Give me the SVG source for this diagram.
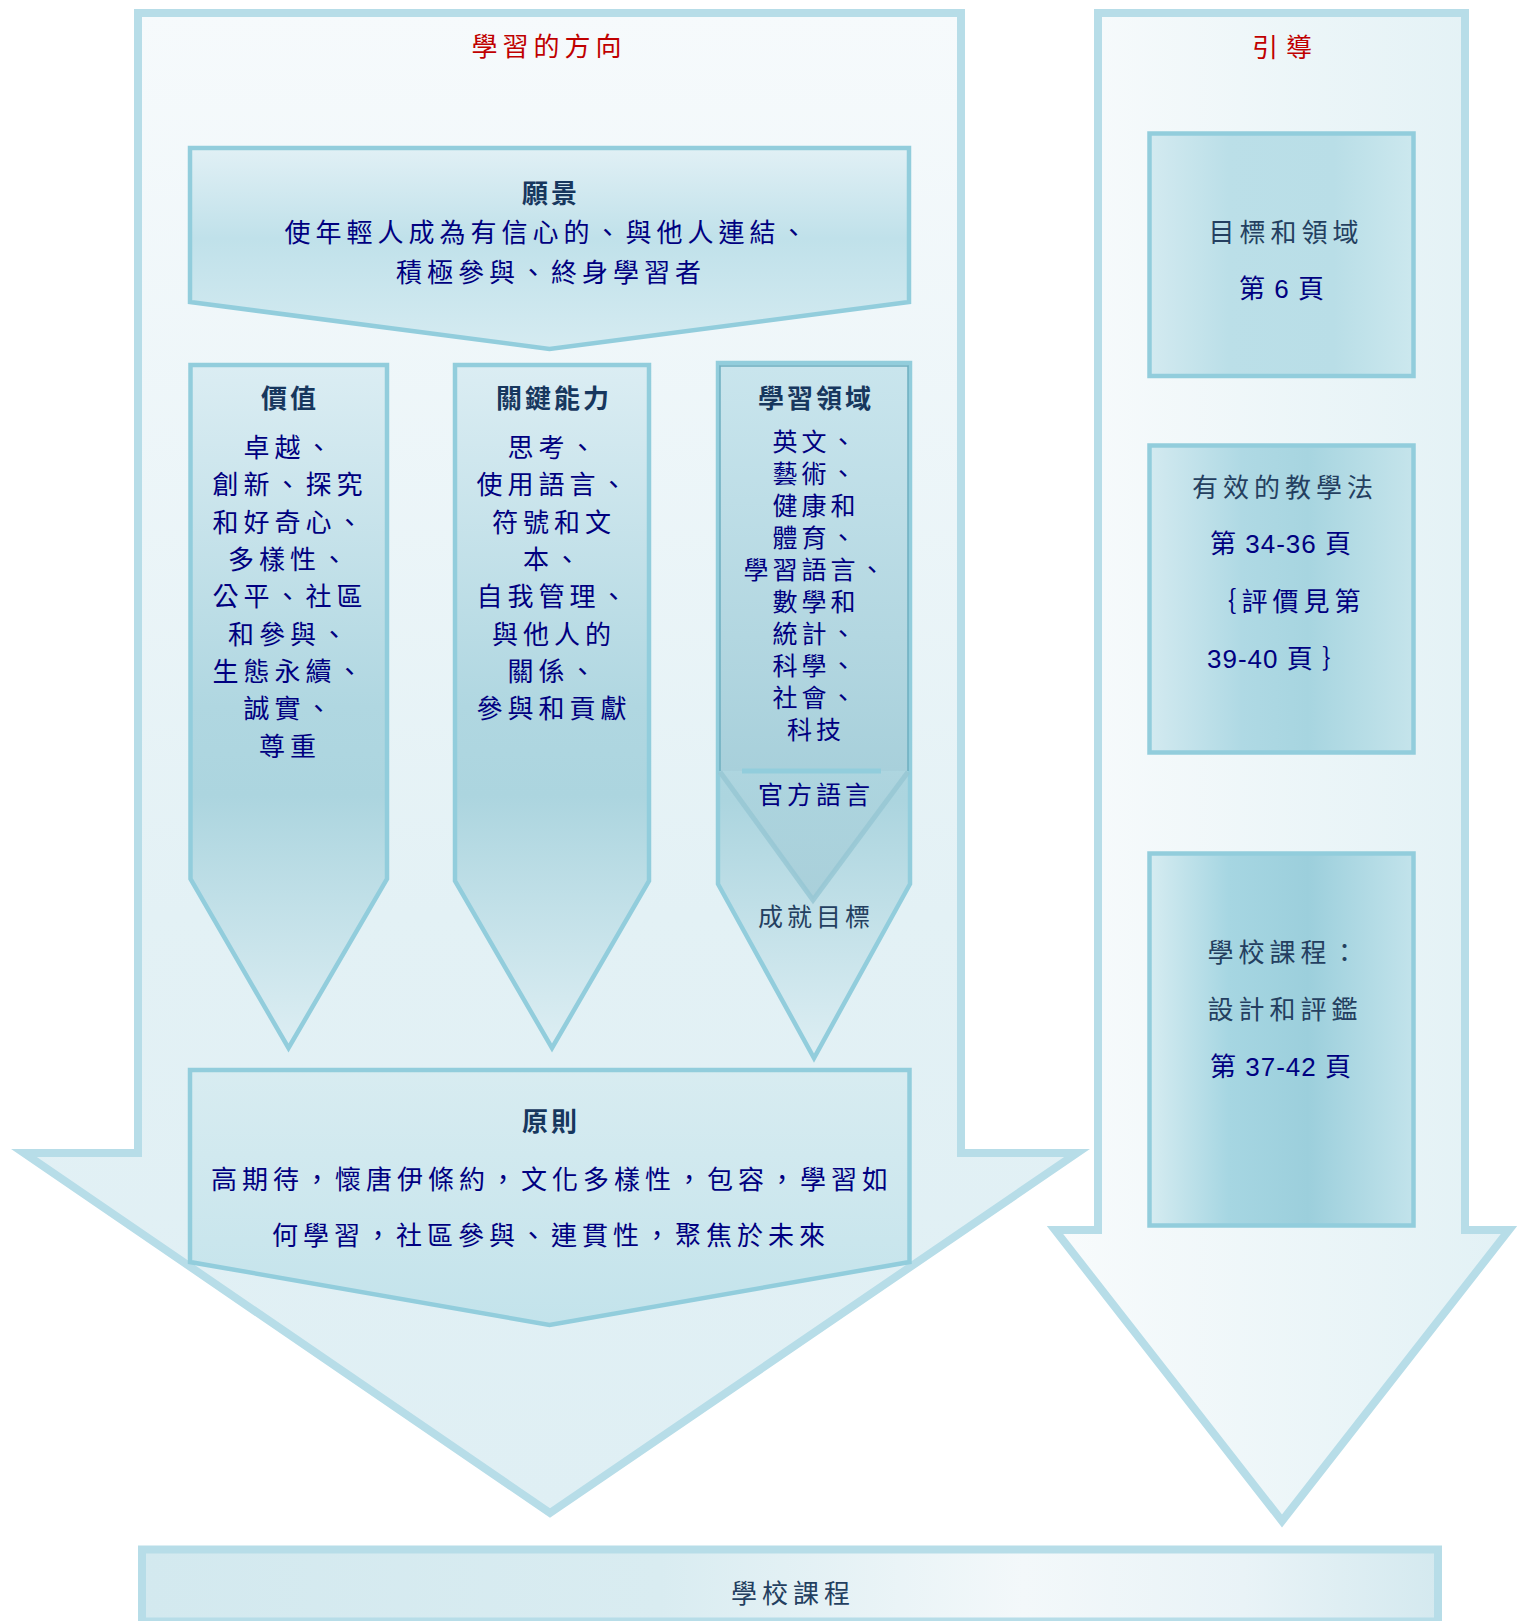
<svg xmlns="http://www.w3.org/2000/svg" width="1525" height="1621" viewBox="0 0 1525 1621">
<defs>
<linearGradient id="gBigL" x1="0" y1="0" x2="0" y2="1">
<stop offset="0" stop-color="#f6fafc"/><stop offset="0.6" stop-color="#e3f1f5"/><stop offset="1" stop-color="#dfeff4"/>
</linearGradient>
<linearGradient id="gBigR" x1="0" y1="0" x2="1" y2="0">
<stop offset="0" stop-color="#f8fbfc"/><stop offset="1" stop-color="#e2f1f5"/>
</linearGradient>
<linearGradient id="gCol" x1="0" y1="0" x2="0" y2="1">
<stop offset="0" stop-color="#dbedf3"/><stop offset="0.5" stop-color="#b0d7e1"/><stop offset="0.63" stop-color="#acd5df"/><stop offset="1" stop-color="#ddeef3"/>
</linearGradient>
<linearGradient id="gVision" x1="0" y1="0" x2="0" y2="1">
<stop offset="0" stop-color="#e1f0f5"/><stop offset="0.45" stop-color="#c0e1ea"/><stop offset="1" stop-color="#d5ebf1"/>
</linearGradient>
<linearGradient id="gPrin" x1="0" y1="0" x2="0" y2="1">
<stop offset="0" stop-color="#d8ecf1"/><stop offset="1" stop-color="#c3e3eb"/>
</linearGradient>
<linearGradient id="gInner" x1="0" y1="0" x2="0" y2="1">
<stop offset="0" stop-color="#c9e5ed"/><stop offset="1" stop-color="#a8d0db"/>
</linearGradient>
<linearGradient id="gTri" x1="0" y1="0" x2="0" y2="1">
<stop offset="0" stop-color="#aed5df"/><stop offset="1" stop-color="#a4ccd7"/>
</linearGradient>
<linearGradient id="gBox1" x1="0" y1="0" x2="1" y2="0">
<stop offset="0" stop-color="#d3eaf0"/><stop offset="0.3" stop-color="#bbdfe8"/><stop offset="0.7" stop-color="#b9dee7"/><stop offset="1" stop-color="#cce8ee"/>
</linearGradient>
<linearGradient id="gBox2" x1="0" y1="0" x2="1" y2="0">
<stop offset="0" stop-color="#d3eaf0"/><stop offset="0.35" stop-color="#afd9e4"/><stop offset="0.6" stop-color="#a7d5e0"/><stop offset="1" stop-color="#c5e4eb"/>
</linearGradient>
<linearGradient id="gBox3" x1="0" y1="0" x2="1" y2="0">
<stop offset="0" stop-color="#d6ecf1"/><stop offset="0.3" stop-color="#a6d6e2"/><stop offset="0.6" stop-color="#9ccfdc"/><stop offset="1" stop-color="#c2e3eb"/>
</linearGradient>
<linearGradient id="gBar" x1="0" y1="0" x2="1" y2="0">
<stop offset="0" stop-color="#d3e9ef"/><stop offset="0.4" stop-color="#d9ecf1"/><stop offset="0.68" stop-color="#f3f8fa"/><stop offset="0.85" stop-color="#e9f3f7"/><stop offset="1" stop-color="#d4e9ef"/>
</linearGradient>
</defs>
<style>
.big{stroke:#b7dde8;stroke-width:8;stroke-linejoin:miter;stroke-miterlimit:10}
.inner{stroke:#92cddc;stroke-width:4.5;stroke-linejoin:miter;stroke-miterlimit:10}
text{font-family:"Noto Sans CJK TC","Noto Sans CJK SC",sans-serif;font-size:26px;text-anchor:middle;letter-spacing:5px}
.red{fill:#c00000}
.hd{fill:#17375e;font-weight:bold;letter-spacing:3px}
.bd{fill:#000080}
.sl{fill:#243f60}
.c3{font-family:"Liberation Sans","Noto Sans CJK TC",sans-serif;font-size:25px;letter-spacing:4px}
.num{font-family:"Liberation Sans","Noto Sans CJK TC",sans-serif;letter-spacing:1px;fill:#000080}
</style>

<g id="learning-direction-arrow">
<path class="big" fill="url(#gBigL)" d="M138,13 H961 V1153 H1077 L550,1513 L24,1153 H138 Z"/>
<text class="red" x="549" y="56">學習的方向</text>
</g>

<g id="guidance-arrow">
<path class="big" fill="url(#gBigR)" d="M1098,13 H1465 V1230 H1509 L1282,1521 L1055,1230 H1098 Z"/>
<text class="red" x="1286" y="57" style="letter-spacing:8px">引導</text>
</g>

<g id="vision">
<path class="inner" fill="url(#gVision)" d="M190,148 H909 V302 L549.5,349 L190,302 Z"/>
<text class="hd" x="551" y="203">願景</text>
<text class="bd" x="548" y="242">使年輕人成為有信心的、與他人連結、</text>
<text class="bd" x="551" y="282">積極參與、終身學習者</text>
</g>

<g id="values">
<path class="inner" fill="url(#gCol)" d="M190.5,365 H387 V879 L288.5,1048 L190.5,879 Z"/>
<text class="hd" x="290" y="408">價值</text>
<text class="bd" x="290" y="457">卓越、</text>
<text class="bd" x="290" y="494">創新、探究</text>
<text class="bd" x="290" y="532">和好奇心、</text>
<text class="bd" x="290" y="569">多樣性、</text>
<text class="bd" x="290" y="606">公平、社區</text>
<text class="bd" x="290" y="644">和參與、</text>
<text class="bd" x="290" y="681">生態永續、</text>
<text class="bd" x="290" y="718">誠實、</text>
<text class="bd" x="290" y="756">尊重</text>
</g>

<g id="key-competencies">
<path class="inner" fill="url(#gCol)" d="M455,365 H649 V881 L552,1048 L455,881 Z"/>
<text class="hd" x="554" y="408">關鍵能力</text>
<text class="bd" x="554" y="457">思考、</text>
<text class="bd" x="554" y="494">使用語言、</text>
<text class="bd" x="554" y="532">符號和文</text>
<text class="bd" x="554" y="569">本、</text>
<text class="bd" x="554" y="606">自我管理、</text>
<text class="bd" x="554" y="644">與他人的</text>
<text class="bd" x="554" y="681">關係、</text>
<text class="bd" x="554" y="718">參與和貢獻</text>
</g>

<g id="learning-areas">
<path class="inner" fill="url(#gCol)" d="M718,363 H910 V884 L814,1058 L718,884 Z"/>
<rect x="720" y="366" width="188" height="405" fill="url(#gInner)"/>
<path d="M720,771 V366 H908 V771" fill="none" stroke="#6eaec0" stroke-width="1.5"/>
<path d="M720,772 L813,900 L908,772 Z" fill="url(#gTri)" fill-opacity="0.8"/>
<path d="M720,772 L813,900 L908,772" fill="none" stroke="#96c7d4" stroke-width="5" stroke-opacity="0.85"/>
<line x1="742" y1="771" x2="881" y2="771" stroke="#92cddc" stroke-width="5"/>
<text class="hd" x="816" y="408">學習領域</text>
<text class="bd c3" x="816" y="451">英文、</text>
<text class="bd c3" x="816" y="483">藝術、</text>
<text class="bd c3" x="816" y="515">健康和</text>
<text class="bd c3" x="816" y="547">體育、</text>
<text class="bd c3" x="816" y="579">學習語言、</text>
<text class="bd c3" x="816" y="611">數學和</text>
<text class="bd c3" x="816" y="643">統計、</text>
<text class="bd c3" x="816" y="675">科學、</text>
<text class="bd c3" x="816" y="707">社會、</text>
<text class="bd c3" x="816" y="739">科技</text>
<text class="bd c3" x="816" y="804">官方語言</text>
<text class="sl c3" x="816" y="926">成就目標</text>
</g>

<g id="principles">
<path class="inner" fill="url(#gPrin)" d="M190,1070 H909.5 V1262 L549.5,1325 L190,1262 Z"/>
<text class="hd" x="551" y="1131">原則</text>
<text class="bd" x="552" y="1189">高期待，懷唐伊條約，文化多樣性，包容，學習如</text>
<text class="bd" x="551" y="1245">何學習，社區參與、連貫性，聚焦於未來</text>
</g>

<g id="aims-and-areas">
<rect class="inner" x="1149.5" y="133.5" width="264" height="242.5" fill="url(#gBox1)"/>
<text class="sl" x="1286" y="242">目標和領域</text>
<text class="num" x="1282" y="298">第 6 頁</text>
</g>

<g id="effective-pedagogy">
<rect class="inner" x="1149.5" y="445.5" width="264" height="307" fill="url(#gBox2)"/>
<text class="sl" x="1285" y="497">有效的教學法</text>
<text class="num" x="1281" y="553">第 34-36 頁</text>
<text class="bd" x="1288" y="611">｛評價見第</text>
<text class="num" x="1278" y="668">39-40 頁 ｝</text>
</g>

<g id="school-curriculum-design">
<rect class="inner" x="1149.5" y="853.5" width="264" height="372" fill="url(#gBox3)"/>
<text class="sl" x="1285" y="962">學校課程：</text>
<text class="sl" x="1285" y="1019">設計和評鑑</text>
<text class="num" x="1281" y="1076">第 37-42 頁</text>
</g>

<g id="school-curriculum">
<rect class="big" x="142" y="1549.5" width="1296" height="72" fill="url(#gBar)"/>
<text class="sl" x="793" y="1603">學校課程</text>
</g>

<g id="connectors"/>
</svg>
